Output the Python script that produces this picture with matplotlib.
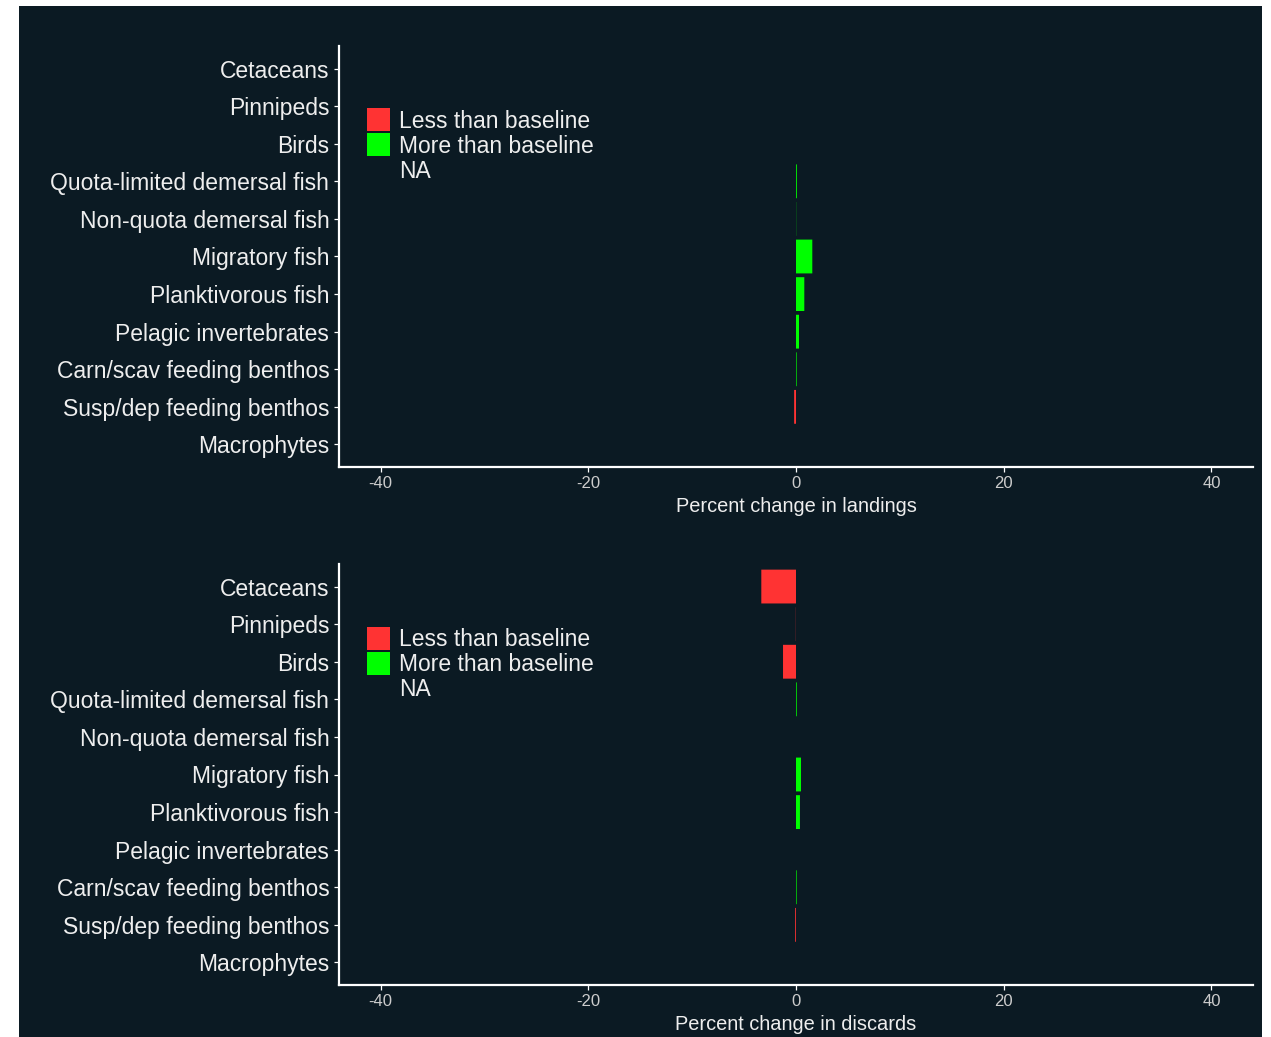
import numpy as np
import matplotlib
matplotlib.use("Agg")
import matplotlib.pyplot as plt
from matplotlib.patches import Rectangle

plt.rcParams["font.family"] = ["Liberation Sans", "DejaVu Sans"]

# Functional groups (top to bottom)
groups = [
    "Cetaceans",
    "Pinnipeds",
    "Birds",
    "Quota-limited demersal fish",
    "Non-quota demersal fish",
    "Migratory fish",
    "Planktivorous fish",
    "Pelagic invertebrates",
    "Carn/scav feeding benthos",
    "Susp/dep feeding benthos",
    "Macrophytes",
]

# Percent change relative to baseline (NaN = no value)
landings_change = [np.nan, np.nan, np.nan, 0.08, 0.015, 1.57, 0.80, 0.29, 0.06, -0.18, np.nan]
discards_change = [-3.34, -0.015, -1.25, 0.07, np.nan, 0.48, 0.38, np.nan, 0.06, -0.08, np.nan]

x_ticks = [-40, -20, 0, 20, 40]
legend_labels = ["Less than baseline", "More than baseline", "NA"]

BG = "#0b1a23"
RED = "#ff3333"
GREEN = "#00ff00"
FG = "#eeeeee"
TICK_FG = "#cccccc"
legend_colors = [RED, GREEN, None]

W, H = 1271, 1037
fig = plt.figure(figsize=(W / 100, H / 100), dpi=100, facecolor="white")

# dark panel behind both plots
fig.patches.append(Rectangle((19 / W, 0), (1262 - 19) / W, 1 - 6 / H,
                             transform=fig.transFigure, facecolor=BG,
                             edgecolor="none", zorder=-10))


def px_axes(left, top, right, bottom):
    return fig.add_axes([left / W, 1 - bottom / H, (right - left) / W, (bottom - top) / H])


def draw_panel(ax, values, xlabel):
    ax.patch.set_alpha(0)
    y = np.arange(len(groups))
    vals = np.array(values, dtype=float)
    for yi, v in zip(y, vals):
        if np.isnan(v):
            continue
        col = RED if v < 0 else GREEN
        ax.barh(yi, v, height=0.9, color=col, linewidth=0, snap=False,
                antialiased=True)
    ax.set_xlim(-44, 44)
    ax.set_ylim(len(groups) - 0.4, -0.6)
    ax.set_yticks(y)
    ax.set_yticklabels(groups, fontsize=16.5, color=FG)
    ax.set_xticks(x_ticks)
    ax.set_xticklabels([str(t) for t in x_ticks], fontsize=12, color=TICK_FG)
    ax.set_xlabel(xlabel, fontsize=14.4, color=FG, labelpad=4)
    for s in ["top", "right"]:
        ax.spines[s].set_visible(False)
    for s in ["left", "bottom"]:
        ax.spines[s].set_color("white")
        ax.spines[s].set_linewidth(1.6)
    ax.tick_params(axis="both", colors="white", length=3.5, width=0.9)
    ax.tick_params(axis="y", pad=3.5, labelcolor=FG)
    ax.tick_params(axis="x", pad=3, labelcolor=TICK_FG)

    # legend keys and labels, placed in pixel units from the panel's top-left
    bbox = ax.get_position()
    ax_left_px = bbox.x0 * W
    ax_top_px = (1 - bbox.y1) * H
    for i, (lab, col) in enumerate(zip(legend_labels, legend_colors)):
        cy = ax_top_px + 74 + 25 * i
        if col is not None:
            fig.patches.append(Rectangle(((ax_left_px + 28) / W, 1 - (cy + 11.5) / H),
                                         23 / W, 23 / H, transform=fig.transFigure,
                                         facecolor=col, edgecolor="none", zorder=3))
        fig.text((ax_left_px + 60) / W, 1 - (cy + 1.5) / H, lab, fontsize=16.5, color=FG,
                 ha="left", va="center", zorder=4)


ax1 = px_axes(339, 46, 1253, 467)
draw_panel(ax1, landings_change, "Percent change in landings")

ax2 = px_axes(339, 564, 1253, 985)
draw_panel(ax2, discards_change, "Percent change in discards")

fig.savefig("out.png", dpi=100, facecolor="white")
